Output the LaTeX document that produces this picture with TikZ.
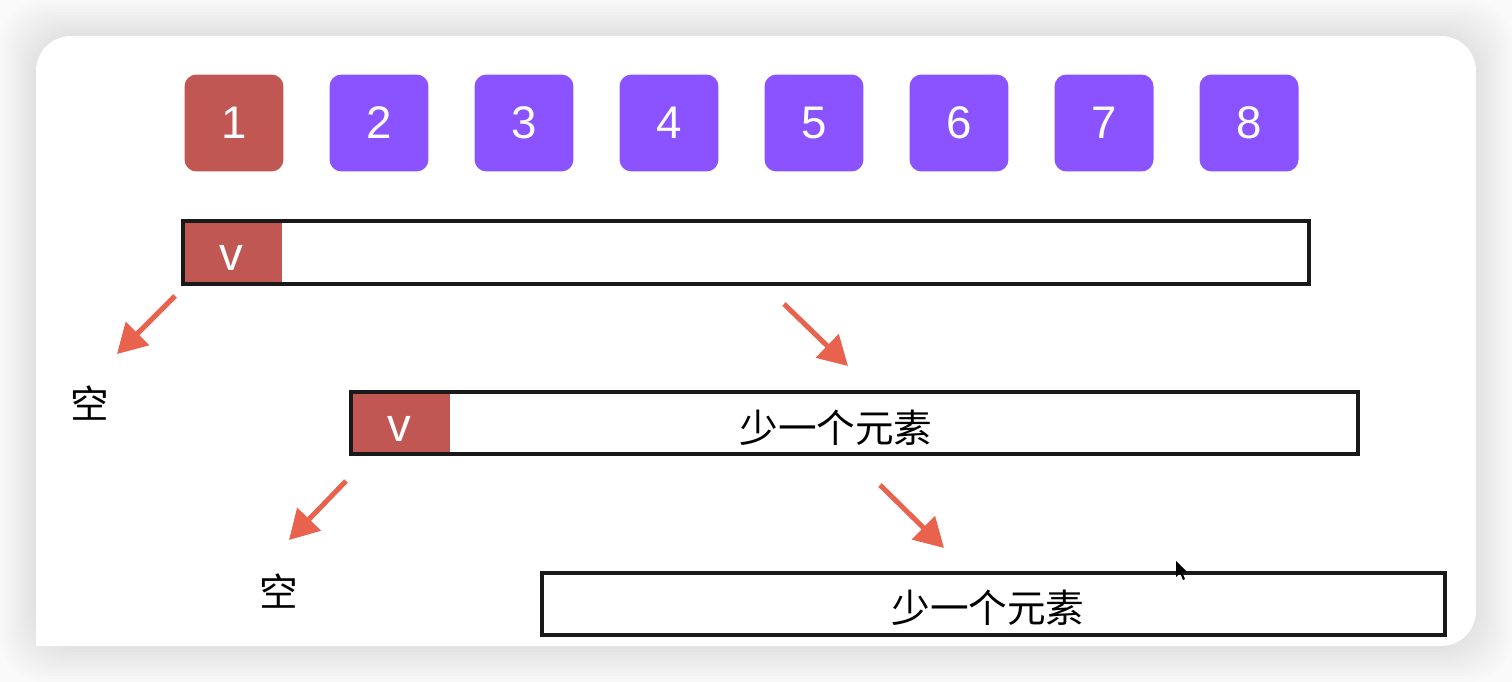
\documentclass[tikz,border=0pt]{standalone}
\usepackage{fontspec}
\setmainfont{Liberation Sans}
\newfontfamily\cjk{Noto Sans CJK SC}
\definecolor{cellred}{RGB}{192, 87, 82}
\definecolor{numpurple}{RGB}{139, 82, 255}
\definecolor{arrowred}{RGB}{232, 98, 78}
\definecolor{pagegray}{RGB}{250, 250, 250}
\usetikzlibrary{arrows.meta}
\tikzset{
    numbox/.style={rounded corners=0.24cm, minimum width=1.98cm,
        minimum height=1.94cm, inner sep=0pt, text=white,
        font=\fontsize{26}{26}\selectfont},
    cellbox/.style={fill=cellred, minimum width=2.02cm, minimum height=1.34cm,
        inner sep=0pt, text=white, text height=0.73cm, text depth=0pt,
        font=\fontsize{27}{27}\selectfont},
    barbox/.style={draw=black!90, line width=0.08cm, minimum height=1.26cm,
        inner sep=0pt},
    cjklabel/.style={font=\cjk\fontsize{22}{22}\selectfont, inner sep=0pt},
    redarrow/.style={draw=arrowred, line width=0.1cm,
        -{Triangle[length=0.58cm, width=0.64cm]}},
}
\begin{document}
\begin{tikzpicture}[x=0.02cm, y=-0.02cm]
    \useasboundingbox (0,0) rectangle (1512,682);
    \fill[pagegray] (0,0) rectangle (1512,682);
    % soft shadow round the card
    \foreach \s in {36,33,...,3}
        \fill[black, opacity=0.009, rounded corners=0.9cm]
            (36-\s,36-\s) rectangle (1476+\s,646+\s);
    \fill[white] (36,646) -- (36,300) [rounded corners=0.7cm] -- (36,36)
        -- (1476,36) -- (1476,646) -- (800,646) [sharp corners] -- (36,646)
        -- cycle;
    % the eight numbers
    \foreach \n in {2,...,8}
        \node[numbox, fill=numpurple] (sq\n) at ({89+145*\n}, 123) {\n};
    \node[numbox, fill=cellred] (sq1) at (234, 123) {1};
    % first array
    \node[cellbox] (cellone) at (231.5, 252.5) {v};
    \node[barbox, minimum width=22.52cm] (barone) at (746, 252.5) {};
    % second array
    \node[cellbox, minimum height=1.3cm] (celltwo) at (399.5, 423) {v};
    \node[barbox, minimum width=20.14cm] (bartwo) at (854.5, 423) {};
    \node[cjklabel] (lbltwo) at (836, 428) {少一个元素};
    % third array
    \node[barbox, minimum width=18.06cm] (barthree) at (993.5, 604) {};
    \node[cjklabel] (lblthree) at (988, 608) {少一个元素};
    % empty parts
    \node[cjklabel] (emptyone) at (90, 403) {空};
    \node[cjklabel] (emptytwo) at (279, 591) {空};
    % arrows
    \coordinate (aonestart) at (175, 296);
    \coordinate (aoneend) at (117, 354);
    \coordinate (atwostart) at (784, 304);
    \coordinate (atwoend) at (848, 366);
    \coordinate (athreestart) at (346, 481);
    \coordinate (athreeend) at (289, 540);
    \coordinate (afourstart) at (880, 485);
    \coordinate (afourend) at (944, 548);
    \draw[redarrow] (aonestart) -- (aoneend);
    \draw[redarrow] (atwostart) -- (atwoend);
    \draw[redarrow] (athreestart) -- (athreeend);
    \draw[redarrow] (afourstart) -- (afourend);
    % mouse pointer
    \fill[black] (1176,561) -- (1176,577) -- (1180,573) -- (1183,580)
        -- (1185,579) -- (1182,572) -- (1187,572) -- cycle;
\end{tikzpicture}
\end{document}
